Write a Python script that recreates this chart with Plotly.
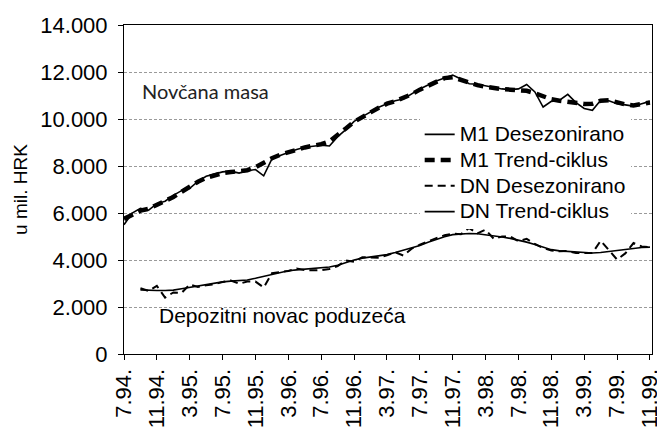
import plotly.graph_objects as go

months = ["7.94.", "8.94.", "9.94.", "10.94.", "11.94.", "12.94.",
          "1.95.", "2.95.", "3.95.", "4.95.", "5.95.", "6.95.", "7.95.", "8.95.", "9.95.", "10.95.", "11.95.", "12.95.",
          "1.96.", "2.96.", "3.96.", "4.96.", "5.96.", "6.96.", "7.96.", "8.96.", "9.96.", "10.96.", "11.96.", "12.96.",
          "1.97.", "2.97.", "3.97.", "4.97.", "5.97.", "6.97.", "7.97.", "8.97.", "9.97.", "10.97.", "11.97.", "12.97.",
          "1.98.", "2.98.", "3.98.", "4.98.", "5.98.", "6.98.", "7.98.", "8.98.", "9.98.", "10.98.", "11.98.", "12.98.",
          "1.99.", "2.99.", "3.99.", "4.99.", "5.99.", "6.99.", "7.99.", "8.99.", "9.99.", "10.99.", "11.99."]

tick_labels = ["7.94.", "11.94.", "3.95.", "7.95.", "11.95.", "3.96.", "7.96.", "11.96.", "3.97.",
               "7.97.", "11.97.", "3.98.", "7.98.", "11.98.", "3.99.", "7.99.", "11.99."]

m1_desez = [5500, 6000, 6200, 6120, 6400, 6500, 6750, 6950, 7050, 7350, 7560, 7650, 7750, 7780, 7700, 7800,
            7850, 7580, 8300, 8450, 8580, 8700, 8800, 8850, 8880, 8850, 9250, 9550, 9900, 10100, 10300, 10500,
            10650, 10780, 10850, 11080, 11280, 11450, 11620, 11750, 11870, 11700, 11500, 11480, 11420, 11330,
            11280, 11250, 11280, 11470, 11150, 10510, 10750, 10800, 11050, 10700, 10450, 10370, 10800, 10780,
            10650, 10600, 10550, 10650, 10750]

m1_trend = [5750, 5950, 6100, 6180, 6330, 6480, 6680, 6900, 7120, 7330, 7500, 7620, 7700, 7740, 7760, 7820,
            7950, 8150, 8330, 8480, 8600, 8700, 8790, 8860, 8930, 9050, 9300, 9600, 9880, 10100, 10280, 10480,
            10650, 10760, 10880, 11050, 11250, 11430, 11600, 11740, 11780, 11650, 11520, 11440, 11370, 11310,
            11270, 11250, 11240, 11200, 11100, 10950, 10840, 10780, 10730, 10680, 10640, 10650, 10780, 10800,
            10700, 10620, 10580, 10620, 10700]

dn_desez = [None, None, 2800, 2680, 2900, 2400, 2620, 2600, 2960, 2850, 2930, 2970, 3060, 3130, 2990, 3080,
            3080, 2830, 3440, 3470, 3530, 3640, 3570, 3560, 3570, 3620, 3740, 3980, 3920, 4120, 4120, 4100,
            4200, 4330, 4190, 4480, 4650, 4800, 4930, 5050, 5120, 5100, 5360, 5130, 5290, 4900, 5000, 5000,
            4800, 4900, 4680, 4510, 4400, 4370, 4380, 4300, 4300, 4300, 4820, 4400, 4020, 4280, 4720, 4580, 4540]

dn_trend = [None, None, 2730, 2700, 2700, 2700, 2720, 2780, 2840, 2900, 2950, 3010, 3070, 3100, 3120, 3150,
            3220, 3300, 3400, 3480, 3540, 3580, 3610, 3640, 3660, 3700, 3780, 3900, 4000, 4080, 4120, 4160,
            4230, 4320, 4420, 4500, 4620, 4760, 4880, 4990, 5080, 5120, 5130, 5120, 5080, 5030, 4980, 4920,
            4850, 4760, 4660, 4540, 4440, 4390, 4370, 4340, 4310, 4300, 4320, 4360, 4420, 4470, 4510, 4530, 4550]

series_names = ["M1 Desezonirano", "M1 Trend-ciklus", "DN Desezonirano", "DN Trend-ciklus"]

FONT = "Liberation Sans, Arial, sans-serif"


def legend_label(s):
    return "<span style='font-size:21px'>" + s + "</span>"


fig = go.Figure()
fig.add_trace(go.Scatter(x=months, y=m1_desez, mode="lines", name=legend_label(series_names[0]),
                         line=dict(color="black", width=1.6)))
fig.add_trace(go.Scatter(x=months, y=m1_trend, mode="lines", name=legend_label(series_names[1]),
                         line=dict(color="black", width=4.5, dash="10px,6px")))
fig.add_trace(go.Scatter(x=months, y=dn_desez, mode="lines", name=legend_label(series_names[2]),
                         line=dict(color="black", width=2, dash="8px,5px")))
fig.add_trace(go.Scatter(x=months, y=dn_trend, mode="lines", name=legend_label(series_names[3]),
                         line=dict(color="black", width=1.6)))

fig.update_layout(
    width=657, height=423, autosize=False,
    margin=dict(l=116, r=3, t=17, b=74),
    paper_bgcolor="white", plot_bgcolor="white",
    separators=",.",
    font=dict(family=FONT, size=21, color="black"),
    showlegend=True,
    legend=dict(x=0.56, y=0.722, xanchor="left", yanchor="top", bgcolor="white",
                font=dict(family=FONT, size=17.5, color="black"),
                tracegroupgap=0, itemwidth=30),
    xaxis=dict(type="category", categoryarray=months, range=[0, 64.25],
               tickmode="array", tickvals=tick_labels, ticktext=tick_labels,
               tickangle=-90, ticks="outside", ticklen=5, tickcolor="black",
               showline=True, linecolor="black", linewidth=1, mirror=True,
               showgrid=False, zeroline=False,
               tickfont=dict(family=FONT, size=22)),
    yaxis=dict(range=[0, 14000], dtick=2000, tick0=0, tickformat=",d",
               ticks="outside", ticklen=5, tickcolor="black",
               showline=True, linecolor="black", linewidth=1, mirror=True,
               showgrid=True, gridcolor="#9a9a9a", gridwidth=1, griddash="3px,2px",
               zeroline=False, ticklabelstandoff=6,
               tickfont=dict(family=FONT, size=22),
               title=dict(text="u mil. HRK", font=dict(family=FONT, size=19), standoff=7)),
    annotations=[
        dict(text="Novčana masa", xref="paper", yref="paper", x=0.03, y=0.80,
             xanchor="left", yanchor="middle", showarrow=False,
             font=dict(family="Lato, Open Sans, sans-serif", size=20, color="#222")),
        dict(text="Depozitni novac poduzeća", xref="paper", yref="paper", x=0.062, y=0.118,
             xanchor="left", yanchor="middle", showarrow=False,
             font=dict(family=FONT, size=21, color="black")),
    ],
)

fig.write_html("out.html")
